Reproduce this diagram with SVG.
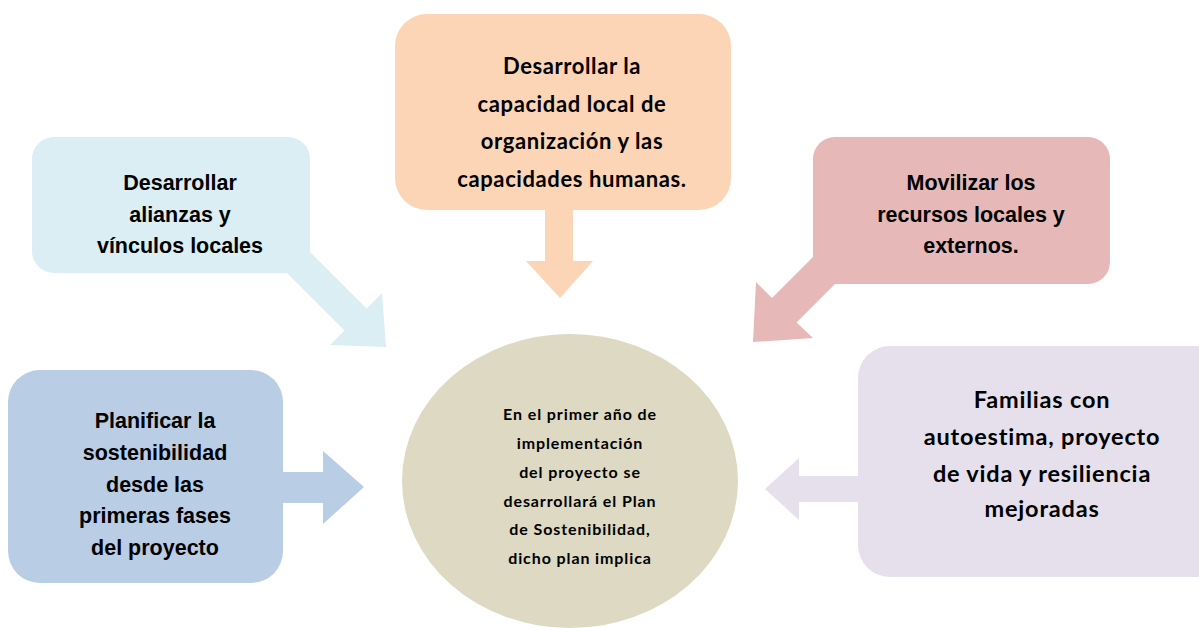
<svg xmlns="http://www.w3.org/2000/svg" width="1199" height="628" viewBox="0 0 1199 628">
<style>
.a{font-family:"Liberation Sans",Arial,sans-serif;font-weight:bold;font-size:21.5px;fill:#000;text-anchor:middle}
.c{font-family:Lato,"Open Sans",sans-serif;font-weight:bold;fill:#000;text-anchor:middle}
</style>
<rect width="1199" height="628" fill="#fff"/>
<g id="connectors">
<polygon fill="#FBD5B5" points="545,205 573,205 573,261 593,261 560,298 526,261 545,261"/>
<polygon fill="#DAEEF3" points="287,273 310,252 366.5,308.5 382,293 386,347 330,345 344.5,330.5"/>
<polygon fill="#E6B9B8" points="813,257 772,298 756,282 753,342 813,338 796.5,322.5 835,284"/>
<polygon fill="#B9CDE5" points="280,472 323,472 323,451 364,487 323,524 323,503 280,503"/>
<polygon fill="#E5E0EC" points="862,476 799,476 799,458 765,489 799,520 799,502 862,502"/>
</g>
<g id="top">
<rect x="395" y="14" width="336" height="196" rx="32" fill="#FBD5B5"/>
<text class="c" font-size="22" letter-spacing="0.6"><tspan x="572" y="74">Desarrollar la</tspan><tspan x="572" y="112">capacidad local de</tspan><tspan x="572" y="149">organización y las</tspan><tspan x="572" y="187">capacidades humanas.</tspan></text>
</g>
<g id="topleft">
<rect x="32" y="137" width="278" height="136" rx="22" fill="#DAEEF3"/>
<text class="a"><tspan x="180" y="190">Desarrollar</tspan><tspan x="180" y="222">alianzas y</tspan><tspan x="180" y="253">vínculos locales</tspan></text>
</g>
<g id="topright">
<rect x="813" y="137" width="297" height="147" rx="22" fill="#E6B9B8"/>
<text class="a"><tspan x="971" y="190">Movilizar los</tspan><tspan x="971" y="222">recursos locales y</tspan><tspan x="971" y="253">externos.</tspan></text>
</g>
<g id="bottomleft">
<rect x="8" y="370" width="275" height="213" rx="32" fill="#B9CDE5"/>
<text class="a"><tspan x="155" y="428">Planificar la</tspan><tspan x="155" y="460">sostenibilidad</tspan><tspan x="155" y="492">desde las</tspan><tspan x="155" y="523">primeras fases</tspan><tspan x="155" y="555">del proyecto</tspan></text>
</g>
<g id="center">
<ellipse cx="570" cy="481" rx="168" ry="147" fill="#DDD9C3"/>
<text class="c" font-size="16" letter-spacing="0.9"><tspan x="580" y="420">En el primer año de</tspan><tspan x="580" y="449">implementación</tspan><tspan x="580" y="478">del proyecto se</tspan><tspan x="580" y="507">desarrollará el Plan</tspan><tspan x="580" y="535">de Sostenibilidad,</tspan><tspan x="580" y="564">dicho plan implica</tspan></text>
</g>
<g id="bottomright">
<rect x="858" y="346" width="370" height="231" rx="32" fill="#E5E0EC"/>
<text class="c" font-size="23.5" letter-spacing="0.8"><tspan x="1042" y="408">Familias con</tspan><tspan x="1042" y="445">autoestima, proyecto</tspan><tspan x="1042" y="482">de vida y resiliencia</tspan><tspan x="1042" y="517">mejoradas</tspan></text>
</g>
</svg>
